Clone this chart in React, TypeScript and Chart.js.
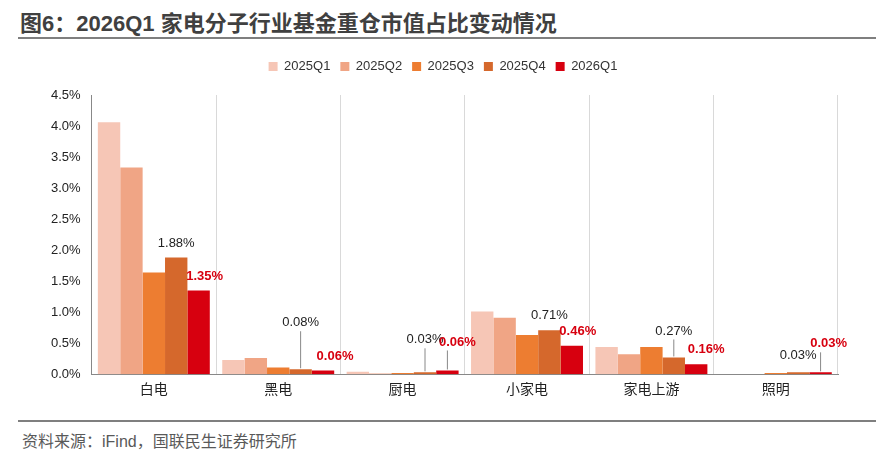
import React, { useEffect, useRef } from "react";
import { Chart, registerables } from "chart.js";
Chart.register(...registerables);

const categories = ["白电", "黑电", "厨电", "小家电", "家电上游", "照明"];
const seriesNames = ["2025Q1", "2025Q2", "2025Q3", "2025Q4", "2026Q1"];
const q1_2025 = [4.06, 0.23, 0.04, 1.01, 0.44, 0.0];
const q2_2025 = [3.33, 0.26, 0.01, 0.91, 0.32, 0.0];
const q3_2025 = [1.64, 0.11, 0.02, 0.63, 0.44, 0.02];
const q4_2025 = [1.88, 0.08, 0.03, 0.71, 0.27, 0.03];
const q1_2026 = [1.35, 0.06, 0.06, 0.46, 0.16, 0.03];
const colors = ["#F6C6B6", "#F0A585", "#ED7D31", "#D5682C", "#D7000F"];
const q4Lift = [8, 40, 26, 8, 20, 10];
const redLift = [8, 8, 22, 8, 8, 22];
const redShift = [6, 12, 10, 6, 10, 8];

const FONT = "'Liberation Sans', 'Noto Sans CJK SC', sans-serif";

const legendGap = {
  id: "legendGap",
  beforeInit(chart: any) {
    const orig = chart.legend.fit;
    chart.legend.fit = function () {
      orig.bind(this)();
      this.height += 12;
    };
  },
};

const labelPlugin = {
  id: "labels",
  afterDatasetsDraw(chart: any) {
    const ctx = chart.ctx;
    ctx.save();
    ctx.textAlign = "center";
    ctx.textBaseline = "bottom";
    [3, 4].forEach((di) => {
      const meta = chart.getDatasetMeta(di);
      const data = chart.data.datasets[di].data as number[];
      meta.data.forEach((bar: any, i: number) => {
        const lift = di === 3 ? q4Lift[i] : redLift[i];
        const shift = di === 3 ? 0 : redShift[i];
        const x = bar.x + shift;
        const y = bar.y - lift;
        if (lift > 12) {
          ctx.strokeStyle = "#888";
          ctx.lineWidth = 1;
          ctx.beginPath();
          ctx.moveTo(bar.x, bar.y - 1);
          ctx.lineTo(bar.x, y + 2);
          ctx.stroke();
        }
        ctx.fillStyle = di === 3 ? "#222" : "#D7000F";
        ctx.font = (di === 3 ? "" : "bold ") + "13px " + FONT;
        ctx.fillText(data[i].toFixed(2) + "%", x, y);
      });
    });
    ctx.restore();
  },
};

export default function App() {
  const ref = useRef<HTMLCanvasElement>(null);
  useEffect(() => {
    const all = [q1_2025, q2_2025, q3_2025, q4_2025, q1_2026];
    const chart = new Chart(ref.current!, {
      type: "bar",
      data: {
        labels: categories,
        datasets: all.map((d, i) => ({
          label: seriesNames[i],
          data: d,
          backgroundColor: colors[i],
          categoryPercentage: 0.9,
          barPercentage: 1.0,
        })),
      },
      options: {
        animation: false,
        responsive: false,
        maintainAspectRatio: false,
        layout: { padding: { left: 30, right: 40, top: 4, bottom: 0 } },
        plugins: {
          legend: {
            position: "top",
            labels: { boxWidth: 9, boxHeight: 9, font: { size: 13, family: FONT }, color: "#333", padding: 10 },
          },
          tooltip: { enabled: false },
        },
        scales: {
          x: {
            grid: { display: true, offset: true, color: "#d9d9d9", drawTicks: false },
            border: { color: "#888" },
            ticks: { font: { size: 14, family: FONT }, color: "#222", padding: 8 },
          },
          y: {
            min: 0,
            max: 4.5,
            grid: { display: false },
            border: { color: "#888" },
            ticks: {
              stepSize: 0.5,
              font: { size: 13, family: FONT },
              color: "#222",
              callback: (v: any) => Number(v).toFixed(1) + "%",
            },
          },
        },
      },
      plugins: [legendGap, labelPlugin],
    });
    return () => chart.destroy();
  }, []);
  return (
    <div style={{ position: "absolute", left: 0, top: 0, width: 887, height: 457, background: "#fff", fontFamily: FONT }}>
      <div style={{ position: "absolute", left: 20, top: 5, fontSize: 22, fontWeight: "bold", color: "#404040" }}>
        图6：2026Q1 家电分子行业基金重仓市值占比变动情况
      </div>
      <div style={{ position: "absolute", left: 18, top: 37, width: 858, height: 2, background: "#7f7f7f" }} />
      <canvas ref={ref} width={860} height={361} style={{ position: "absolute", left: 18, top: 46 }} />
      <div style={{ position: "absolute", left: 18, top: 420, width: 858, height: 2, background: "#7f7f7f" }} />
      <div style={{ position: "absolute", left: 22, top: 428, fontSize: 16, color: "#595959" }}>
        资料来源：iFind，国联民生证券研究所
      </div>
    </div>
  );
}
